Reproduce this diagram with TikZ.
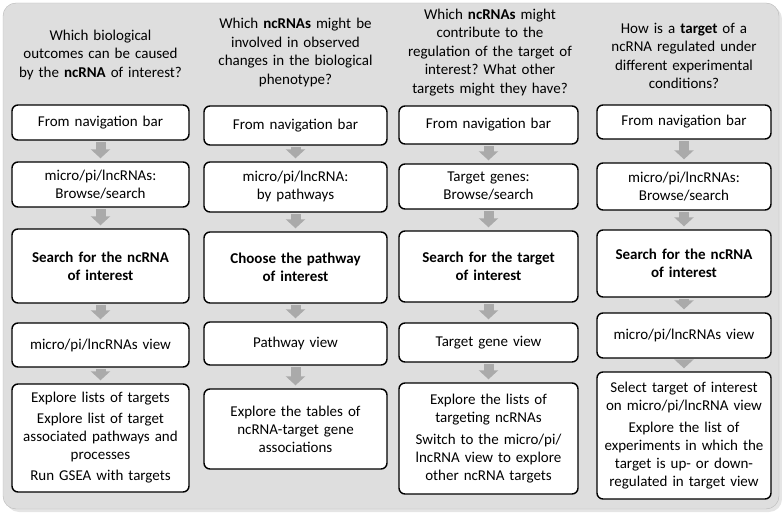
\documentclass[tikz,border=0pt]{standalone}
\usepackage{fontspec}
\setmainfont{Carlito}
\frenchspacing
\usetikzlibrary{arrows.meta}
\definecolor{panel}{HTML}{DEDEDE}
\definecolor{panelline}{HTML}{B9B9B9}
\definecolor{flowgray}{HTML}{AAAAAA}
\begin{document}
\begin{tikzpicture}[x=1pt, y=-1pt, line join=round,
	txt/.style={font=\fontsize{15}{18}\selectfont, align=center},
	box/.style={txt, draw=black, line width=1.4pt, fill=white, rounded corners=6pt, inner sep=0pt},
	flow/.style={line width=10pt, draw=flowgray, -{Triangle[length=9pt,width=19pt]}, shorten <=1.5pt, shorten >=3pt}]
	\useasboundingbox (0,0) rectangle (782,513);
	% panel
	\fill[black!10, rounded corners=13pt] (6,6) rectangle (782,512);
	\draw[fill=panel, draw=panelline, rounded corners=13pt] (3,3) rectangle (779,509);
	% questions
	\node[txt, text width=185pt, font=\fontsize{15}{18.5}\selectfont] (q1) at (100.5,55) {Which biological\\ outcomes can be caused\\ by the \textbf{ncRNA} of interest?};
	\node[txt, text width=185pt, font=\fontsize{15}{18.5}\selectfont] (q2) at (295.5,52.5) {Which \textbf{ncRNAs} might be\\ involved in observed\\ changes in the biological\\ phenotype?};
	\node[txt, text width=185pt, font=\fontsize{15}{18.5}\selectfont] (q3) at (490,52.5) {Which \textbf{ncRNAs} might\\ contribute to the\\ regulation of the target of\\ interest? What other\\ targets might they have?};
	\node[txt, text width=185pt, font=\fontsize{15}{18.5}\selectfont] (q4) at (684,56) {How is a \textbf{target} of a\\ ncRNA regulated under\\ different experimental\\ conditions?};
	% column 1
	\node[box, text width=177pt, minimum height=35pt] (n11) at (100.5,122.5) {From navigation bar};
	\node[box, text width=177pt, minimum height=45pt] (n12) at (100.5,184.5) {micro/pi/lncRNAs:\\ Browse/search};
	\node[box, text width=177pt, minimum height=74pt] (n13) at (100.5,266) {\textbf{Search for the ncRNA}\\ \textbf{of interest}};
	\node[box, text width=177pt, minimum height=44pt] (n14) at (100.5,345) {micro/pi/lncRNAs view};
	\node[box, text width=177pt, minimum height=108pt] (n15) at (100.5,438) {Explore lists of targets\\[3pt] Explore list of target\\ associated pathways and\\ processes\\[3pt] Run GSEA with targets};
	% column 2
	\node[box, text width=183pt, minimum height=39pt] (n21) at (295.5,125.5) {From navigation bar};
	\node[box, text width=183pt, minimum height=50pt] (n22) at (295.5,187) {micro/pi/lncRNA:\\ by pathways};
	\node[box, text width=183pt, minimum height=71pt] (n23) at (295.5,267.5) {\textbf{Choose the pathway}\\ \textbf{of interest}};
	\node[box, text width=183pt, minimum height=43pt] (n24) at (295.5,343.5) {Pathway view};
	\node[box, text width=183pt, minimum height=80pt] (n25) at (295.5,429) {Explore the tables of\\ ncRNA-target gene\\ associations};
	% column 3
	\node[box, text width=179pt, minimum height=38pt] (n31) at (488.5,125) {From navigation bar};
	\node[box, text width=179pt, minimum height=45pt] (n32) at (488.5,186.5) {Target genes:\\ Browse/search};
	\node[box, text width=179pt, minimum height=71pt] (n33) at (488.5,266.5) {\textbf{Search for the target}\\ \textbf{of interest}};
	\node[box, text width=179pt, minimum height=39pt] (n34) at (488.5,342.5) {Target gene view};
	\node[box, text width=179pt, minimum height=111pt] (n35) at (488.5,438.5) {Explore the lists of\\ targeting ncRNAs\\[4pt] Switch to the micro/pi/\\ lncRNA view to explore\\ other ncRNA targets};
	% column 4
	\node[box, text width=174pt, minimum height=34pt] (n41) at (684,122) {From navigation bar};
	\node[box, text width=174pt, minimum height=47pt] (n42) at (684,186.5) {micro/pi/lncRNAs:\\ Browse/search};
	\node[box, text width=174pt, minimum height=67pt] (n43) at (684,263.5) {\textbf{Search for the ncRNA}\\ \textbf{of interest}};
	\node[box, text width=174pt, minimum height=45pt] (n44) at (684,335.5) {micro/pi/lncRNAs view};
	\node[box, text width=174pt, minimum height=127pt] (n45) at (684,435.5) {Select target of interest\\ on micro/pi/lncRNA view\\[4pt] Explore the list of\\ experiments in which the\\ target is up- or down-\\ regulated in target view};
	% arrows
	\foreach \c in {1,2,3,4}
	\foreach \r/\s in {1/2,2/3,3/4,4/5}
	\draw[flow] (n\c\r) -- (n\c\s);
\end{tikzpicture}
\end{document}
